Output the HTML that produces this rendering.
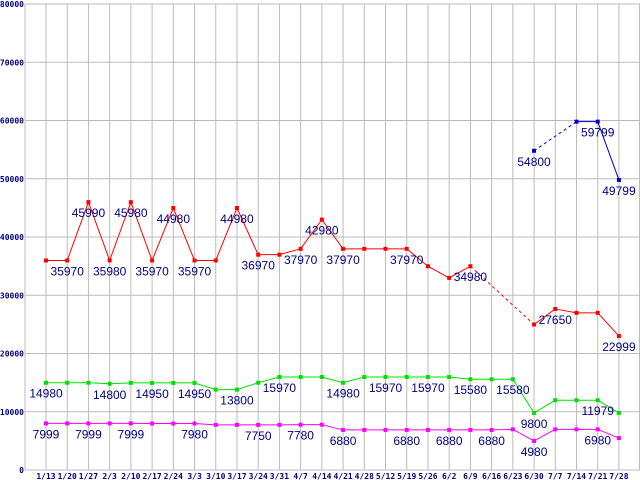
<!DOCTYPE html>
<html><head><meta charset="utf-8"><style>
html,body{margin:0;padding:0;background:#fff;width:640px;height:480px;overflow:hidden}
svg{display:block}
.lbl{font-family:"Liberation Sans",sans-serif;font-size:12px;fill:#000080}
.tk{font-family:"DejaVu Sans Mono","Liberation Mono",monospace;font-size:8px;fill:#000080;font-weight:bold}
</style></head><body>
<svg id="chart" width="640" height="480"></svg>
<script>
const categories=["1/13","1/20","1/27","2/3","2/10","2/17","2/24","3/3","3/10","3/17","3/24","3/31","4/7","4/14","4/21","4/28","5/12","5/19","5/26","6/2","6/9","6/16","6/23","6/30","7/7","7/14","7/21","7/28"];
const redValues=[35970,35970,45990,35980,45980,35970,44980,35970,35970,44980,36970,36970,37970,42980,37970,37970,37970,37970,34980,32980,34980,null,null,24980,27650,26980,26980,22999];
const greenValues=[14980,14980,14980,14800,14950,14950,14950,14950,13800,13800,14980,15970,15970,15970,14980,15970,15970,15970,15970,15970,15580,15580,15580,9800,11979,11979,11979,9800];
const magentaValues=[7999,7999,7999,7999,7999,7980,7980,7980,7750,7750,7750,7750,7780,7780,6880,6880,6880,6880,6880,6880,6880,6880,6980,4980,6980,6980,6980,5480];
const blueValues=[null,null,null,null,null,null,null,null,null,null,null,null,null,null,null,null,null,null,null,null,null,null,null,54800,null,59799,59799,49799];
const redLabels=[1,2,3,4,5,6,7,9,10,12,13,14,17,20,24,27];
const greenLabels=[0,3,5,7,9,11,14,16,18,20,22,23,26];
const magentaLabels=[0,2,4,7,10,12,14,17,19,21,23,26];
const blueLabels=[23,26,27];
const yTicks=[0,10000,20000,30000,40000,50000,60000,70000,80000];

const NS="http://www.w3.org/2000/svg";
const svg=document.getElementById('chart');
const L=25,R=640,T=4,B=470,X0=46,DX=21.22,YMAX=80000;
const xs=i=>X0+i*DX;
const ys=v=>B-(v/YMAX)*(B-T);
function mk(tag,attrs,parent){const e=document.createElementNS(NS,tag);for(const k in attrs)e.setAttribute(k,attrs[k]);(parent||svg).appendChild(e);return e;}

const grid=mk('g',{});


yTicks.forEach(v=>{
  const ln=mk('line',{x1:L,x2:R,y1:ys(v),y2:ys(v),stroke:'#bbb','stroke-width':1},grid);
  
  
  const t=mk('text',{x:L-1,y:ys(v)+3,'text-anchor':'end',class:'tk'});
  
  
  t.textContent=v;
});
const vl=mk('line',{x1:L,x2:L,y1:T,y2:B,stroke:'#bbb'},grid);


categories.forEach((c,i)=>{
  const ln=mk('line',{x1:xs(i),x2:xs(i),y1:T,y2:B,stroke:'#bbb'},grid);
  
  
  const t=mk('text',{x:xs(i),y:479,'text-anchor':'middle',class:'tk'});
  
  
  t.textContent=c;
});
const rl=mk('line',{x1:639.5,x2:639.5,y1:T,y2:B,stroke:'#bbb'},grid);



function series(vals,color,labels,name){
  const g=mk('g',{});
  
  
  let prev=-1;
  vals.forEach((v,i)=>{
    if(v==null)return;
    if(prev>=0){
      const seg=mk('line',{x1:xs(prev),y1:ys(vals[prev]),x2:xs(i),y2:ys(v),stroke:color,'stroke-width':1},g);
      if(i-prev>1)seg.setAttribute('stroke-dasharray','3,3');
      
      
    }
    prev=i;
  });
  vals.forEach((v,i)=>{
    if(v==null)return;
    const p=mk('rect',{x:xs(i)-2,y:ys(v)-2,width:4,height:4,fill:color},g);
    
    
  });
  labels.forEach(i=>{
    if(vals[i]==null)return;
    const t=mk('text',{x:xs(i),y:ys(vals[i])+15,'text-anchor':'middle',class:'lbl'},g);
    
    
    t.textContent=vals[i];
  });
}
series(redValues,'#ff0000',redLabels,'red');
series(greenValues,'#00e000',greenLabels,'green');
series(magentaValues,'#ff00ff',magentaLabels,'magenta');
series(blueValues,'#0000cc',blueLabels,'blue');
</script>
</body></html>
